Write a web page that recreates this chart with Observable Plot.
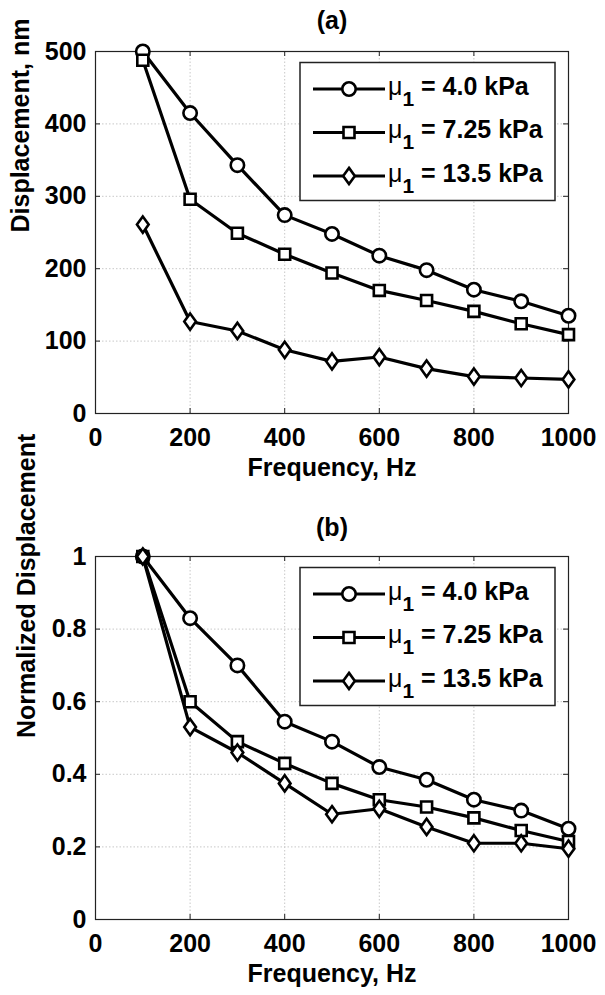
<!DOCTYPE html>
<html>
<head>
<meta charset="utf-8">
<script src="https://cdn.jsdelivr.net/npm/d3@7"></script>
<script src="https://cdn.jsdelivr.net/npm/@observablehq/plot@0.6"></script>
<style>
  html, body { margin: 0; padding: 0; background: #fff; }
  #chart { width: 605px; }
  #chart svg { display: block; }
</style>
</head>
<body>
<div id="chart"></div>
<script>
// ---------- data ----------
const frequency = [100, 200, 300, 400, 500, 600, 700, 800, 900, 1000];
const seriesLabels = ["4.0 kPa", "7.25 kPa", "13.5 kPa"];

// (a) displacement, nm
const dispMu4 = [500, 415, 343, 274, 248, 218, 198, 171, 155, 135];
const dispMu725 = [488, 296, 249, 220, 194, 170, 156, 141, 124, 109];
const dispMu135 = [261, 127, 114, 88, 72, 78, 62, 51, 49, 47];

// (b) normalized displacement
const normMu4 = [1, 0.83, 0.70, 0.545, 0.49, 0.42, 0.385, 0.33, 0.30, 0.25];
const normMu725 = [1, 0.60, 0.49, 0.43, 0.375, 0.33, 0.31, 0.28, 0.245, 0.215];
const normMu135 = [1, 0.53, 0.46, 0.375, 0.29, 0.305, 0.255, 0.21, 0.21, 0.195];

const xTicks = [0, 200, 400, 600, 800, 1000];
const yTicksA = [0, 100, 200, 300, 400, 500];
const yTicksB = [0, 0.2, 0.4, 0.6, 0.8, 1];

// ---------- styles ----------
const FONT = "'Liberation Sans', Arial, Helvetica, sans-serif";
const FS = 25;
const diamondTall = {
  draw(ctx, size) {
    const r = Math.sqrt(size / Math.PI);
    const hy = 1.25 * r, hx = 0.9 * r;
    ctx.moveTo(0, -hy); ctx.lineTo(hx, 0); ctx.lineTo(0, hy); ctx.lineTo(-hx, 0); ctx.closePath();
  }
};
const symbols = [d3.symbolCircle, d3.symbolSquare, diamondTall];
const symbolR = [6.7, 6.2, 6.5];

function makeRows(values) {
  return frequency.map((f, i) => ({f, v: values[i]}));
}

function panel({series, yDomain, yTicks, yFormat, title, yLabel, yLabelDx, titleDy, height, marginTop, marginBottom}) {
  const marginLeft = 95, marginRight = 37, width = 605;
  const pw = width - marginLeft - marginRight;
  const ph = height - marginTop - marginBottom;
  const txt = {fontSize: FS, fontWeight: "bold", fill: "#000"};
  const marks = [
    Plot.ruleX(xTicks, {x: d => d, stroke: "#c8c8c8", strokeWidth: 1, strokeDasharray: "1.5,2"}),
    Plot.ruleY(yTicks, {y: d => d, stroke: "#c8c8c8", strokeWidth: 1, strokeDasharray: "1.5,2"}),
    // inward ticks on all four sides
    Plot.ruleX(xTicks, {x: d => d, stroke: "#222", insetTop: ph - 5}),
    Plot.ruleX(xTicks, {x: d => d, stroke: "#222", insetBottom: ph - 5}),
    Plot.ruleY(yTicks, {y: d => d, stroke: "#222", insetRight: pw - 5}),
    Plot.ruleY(yTicks, {y: d => d, stroke: "#222", insetLeft: pw - 5}),
    Plot.frame({stroke: "#222", strokeWidth: 1.2}),
    Plot.axisX(xTicks, {tickSize: 0, tickPadding: 15, label: null, tickFormat: d3.format("d"), ...txt}),
    Plot.axisY(yTicks, {tickSize: 0, tickPadding: 9, label: null, tickFormat: yFormat, ...txt}),
    Plot.text([title], {text: d => d, frameAnchor: "top", lineAnchor: "bottom", dy: titleDy, ...txt}),
    Plot.text(["Frequency, Hz"], {text: d => d, frameAnchor: "bottom", lineAnchor: "bottom", dy: 62, ...txt}),
    Plot.text([yLabel], {text: d => d, frameAnchor: "left", rotate: -90, lineAnchor: "bottom", dx: yLabelDx, ...txt})
  ];
  series.forEach((vals, i) => {
    const rows = makeRows(vals);
    marks.push(Plot.line(rows, {x: "f", y: "v", stroke: "#000", strokeWidth: 3.2}));
    marks.push(Plot.dot(rows, {x: "f", y: "v", symbol: symbols[i], r: symbolR[i], fill: "#fff", stroke: "#000", strokeWidth: 2.6}));
  });
  const svg = Plot.plot({
    width, height, marginLeft, marginRight, marginTop, marginBottom,
    style: {fontFamily: FONT, fontSize: FS + "px", fontWeight: "bold", color: "#000", background: "#fff", overflow: "visible"},
    x: {domain: [0, 1000], axis: null},
    y: {domain: yDomain, axis: null},
    marks
  });
  // legend inside the plot frame (top-right)
  const g = d3.select(svg).append("g").attr("transform", `translate(${marginLeft},${marginTop})`)
    .attr("text-anchor", "start");
  g.append("rect").attr("x", 205).attr("y", 11.5).attr("width", 255).attr("height", 138)
    .attr("fill", "#fff").attr("stroke", "#222").attr("stroke-width", 1.5);
  const rowsY = [38, 81.5, 125];
  seriesLabels.forEach((lab, i) => {
    const y = rowsY[i];
    g.append("line").attr("x1", 218).attr("x2", 290).attr("y1", y).attr("y2", y)
      .attr("stroke", "#000").attr("stroke-width", 3.2);
    g.append("path").attr("transform", `translate(254,${y})`)
      .attr("d", d3.symbol(symbols[i], Math.PI * symbolR[i] * symbolR[i])())
      .attr("fill", "#fff").attr("stroke", "#000").attr("stroke-width", 2.6);
    const t = g.append("text").attr("x", 293).attr("y", y + 5.5).attr("text-anchor", "start")
      .attr("font-family", FONT).attr("font-size", FS).attr("fill", "#000");
    t.append("tspan").attr("font-weight", "normal").text("μ");
    t.append("tspan").attr("font-weight", "bold").attr("font-size", 21).attr("dy", 11).text("1");
    t.append("tspan").attr("font-weight", "bold").attr("dy", -11).text(" = " + lab);
  });
  return svg;
}

const chart = document.getElementById("chart");
chart.appendChild(panel({
  series: [dispMu4, dispMu725, dispMu135],
  yDomain: [0, 500], yTicks: yTicksA, yFormat: d3.format("d"),
  title: "(a)", yLabel: "Displacement, nm", yLabelDx: -67, titleDy: -23,
  height: 490, marginTop: 51, marginBottom: 77
}));
chart.appendChild(panel({
  series: [normMu4, normMu725, normMu135],
  yDomain: [0, 1], yTicks: yTicksB, yFormat: d3.format("~g"),
  title: "(b)", yLabel: "Normalized Displacement", yLabelDx: -61, titleDy: -21,
  height: 505, marginTop: 66, marginBottom: 76
}));
</script>
</body>
</html>
